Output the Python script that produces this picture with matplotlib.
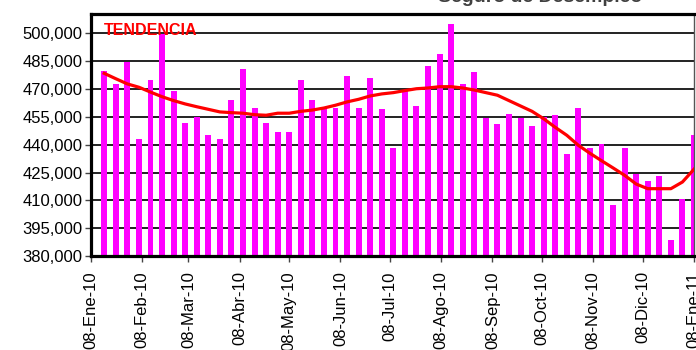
import numpy as np
import pandas as pd
import matplotlib
matplotlib.use("Agg")
import matplotlib.pyplot as plt

# semanas (fin de semana, sabado) desde 16-Ene-10 hasta 08-Ene-11
semanas = pd.date_range("2010-01-16", periods=52, freq="7D")

solicitudes = [480000, 473000, 484500, 443000, 475000, 499500, 469000, 451500,
               455000, 445500, 443000, 464000, 481000, 460000, 451500, 447000,
               447000, 475000, 464000, 460000, 460000, 477000, 460000, 476000,
               459500, 438000, 469000, 461000, 482500, 489000, 505000, 473000,
               479000, 454500, 451000, 456500, 454500, 450000, 455000, 456000,
               435000, 460000, 438000, 440500, 407500, 438500, 424000, 420500,
               423000, 388500, 411000, 445500]

tendencia = [478500, 475600, 472800, 471000, 468400, 465900, 463800, 462000,
             460500, 459100, 457700, 457300, 457000, 456200, 455900, 457000,
             457000, 458000, 458700, 459800, 461300, 463100, 464500, 466300,
             467400, 468100, 469200, 470200, 470600, 471300, 471300, 470600,
             469500, 468100, 466700, 463800, 460900, 458000, 454000, 449400,
             445100, 439700, 435400, 431400, 427500, 423500, 418800, 416300,
             416300, 416300, 419900, 426800]

meses = ["08-Ene-10", "08-Feb-10", "08-Mar-10", "08-Abr-10", "08-May-10",
         "08-Jun-10", "08-Jul-10", "08-Ago-10", "08-Sep-10", "08-Oct-10",
         "08-Nov-10", "08-Dic-10", "08-Ene-11"]
fechas_meses = [pd.Timestamp(2010, 1, 8) + pd.DateOffset(months=i) for i in range(13)]

y_ticks = np.arange(380000, 500001, 15000)

plt.rcParams['font.family'] = ['Liberation Sans', 'DejaVu Sans']

fig = plt.figure(figsize=(6.96, 3.5), dpi=100)
ax = fig.add_axes([91/696, 94/350, 603/696, 242/350])

ax.bar(semanas, solicitudes, width=3.6, color="#FF00FF", zorder=2)
ax.plot(semanas, tendencia, color="#FF0000", lw=2.3, zorder=3)

ax.set_yticks(y_ticks)
ax.set_yticklabels([f"{v:,}" for v in y_ticks], fontsize=12)
ax.set_xticks(fechas_meses)
ax.set_xticklabels(meses, rotation=90, fontsize=12)
ax.tick_params(axis="y", direction="out", length=4, width=1, color="#444444", pad=2)
ax.tick_params(axis="x", direction="out", length=4, width=1, color="#444444", pad=7)

ax.set_xlim(pd.Timestamp("2010-01-08"), pd.Timestamp("2011-01-08"))
ax.set_ylim(380000, 510500)

ax.yaxis.grid(True, color="#222222", lw=1.4, zorder=1)
ax.set_axisbelow(True)

for s in ["left", "top", "bottom"]:
    ax.spines[s].set_linewidth(2.3)
    ax.spines[s].set_color("black")
ax.spines["right"].set_linewidth(1.0)
ax.spines["right"].set_color("#555555")

ax.text(13/603, (256-35)/242, "TENDENCIA", transform=ax.transAxes, color="#FF0000",
        fontsize=11.5, fontweight="bold", va="baseline", ha="left", zorder=4)

# titulo recortado por el borde superior, como en la imagen original
fig.text(438/696, 1 - 2.5/350, "Seguro de Desempleo", color="#404040",
         fontsize=14, fontweight="bold", va="baseline", ha="left")

fig.savefig("out.png", dpi=100)
